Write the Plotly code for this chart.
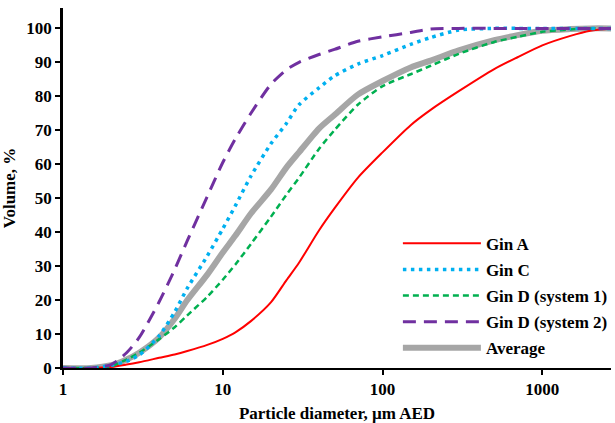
import plotly.graph_objects as go

diameter = [1, 1.5, 2, 2.5, 3, 4, 5, 6, 8, 10, 12, 15, 20, 25, 30, 40, 50, 70,
            100, 150, 200, 300, 500, 700, 1000, 1500, 2000, 2700]

gin_a = [0, 0, 0.3, 1.0, 1.7, 3.0, 4.0, 5.0, 6.8, 8.6, 10.5, 13.8, 19.3, 25.8, 31, 40.5, 47, 56,
         63.5, 71.5, 76, 81.5, 88, 91.5, 95, 97.8, 99.3, 100]
gin_c = [0, 0, 0.8, 2, 3.8, 9.5, 16.5, 23.5, 33, 41, 47.8, 56.5, 66, 72, 77.5, 82.5, 86, 89.5,
         92, 95.3, 97.3, 99.5, 100, 100, 100, 100, 100, 100]
gin_d1 = [0, 0, 0.5, 2.5, 4.5, 8.5, 12, 15.5, 21, 26, 30.5, 36.5, 44.5, 51, 56, 64.5, 70, 77.5,
          83, 86.5, 89, 92.5, 96, 97.5, 99, 99.7, 100, 100]
gin_d2 = [0, 0, 1, 4.5, 9, 19.5, 29, 37.5, 50.5, 60.5, 67.5, 75, 83.5, 87.8, 90, 92.3, 93.8, 96.2,
          97.5, 98.8, 99.8, 100, 100, 100, 100, 100, 100, 100]
average = [0, 0, 0.8, 2.5, 4.5, 9, 14.5, 20, 27.5, 34, 39, 45.5, 52.5, 59, 63.5, 70.5, 74.5, 80.5,
           84.5, 88.5, 90.5, 93.5, 96.5, 98, 99.3, 99.8, 100, 100]

x_ticks = [1, 10, 100, 1000]
x_tick_labels = ["<b>1</b>", "<b>10</b>", "<b>100</b>", "<b>1000</b>"]
y_ticks = [0, 10, 20, 30, 40, 50, 60, 70, 80, 90, 100]
y_tick_labels = ["<b>%d</b>" % v for v in y_ticks]

FONT = "Liberation Serif, Times New Roman, serif"
SIZE = 17

fig = go.Figure()
fig.add_trace(go.Scatter(x=diameter, y=average, mode="lines", name="<b>Average</b>",
                         legendgroup="e",
                         line=dict(color="#A6A6A6", width=6, shape="spline", smoothing=0.7),
                         legendrank=5))
fig.add_trace(go.Scatter(x=diameter, y=gin_a, mode="lines", name="<b>Gin A</b>",
                         legendgroup="a",
                         line=dict(color="#FF0000", width=2, shape="spline", smoothing=0.7),
                         legendrank=1))
fig.add_trace(go.Scatter(x=diameter, y=gin_d1, mode="lines", name="<b>Gin D (system 1)</b>",
                         legendgroup="c",
                         line=dict(color="#00B050", width=2.5, dash="6px,4px", shape="spline",
                                   smoothing=0.7), legendrank=3))
fig.add_trace(go.Scatter(x=diameter, y=gin_c, mode="lines", name="<b>Gin C</b>",
                         legendgroup="b",
                         line=dict(color="#00B0F0", width=3.5, dash="3.5px,4.5px", shape="spline",
                                   smoothing=0.7), legendrank=2))
fig.add_trace(go.Scatter(x=diameter, y=gin_d2, mode="lines", name="<b>Gin D (system 2)</b>",
                         legendgroup="d",
                         line=dict(color="#7030A0", width=3, dash="13px,8px", shape="spline",
                                   smoothing=0.7), legendrank=4))

fig.update_layout(
    width=615, height=423,
    margin=dict(l=63, r=3, t=8, b=55),
    paper_bgcolor="white", plot_bgcolor="white",
    font=dict(family=FONT, size=SIZE, color="black"),
    legend=dict(x=0.61, y=0.395, xanchor="left", yanchor="top",
                bgcolor="rgba(0,0,0,0)", itemwidth=78, tracegroupgap=1,
                font=dict(family=FONT, size=SIZE, color="black")),
    xaxis=dict(type="log", range=[0, 3.43], tickvals=x_ticks, ticktext=x_tick_labels,
               showgrid=False, zeroline=False, showline=True, linecolor="black",
               linewidth=2, ticks="outside", ticklen=5, tickwidth=1.5, tickcolor="black",
               automargin=False,
               title=dict(text="<b>Particle diameter, µm AED</b>", standoff=10,
                          font=dict(family=FONT, size=SIZE))),
    yaxis=dict(range=[0, 106], tickvals=y_ticks, ticktext=y_tick_labels, showgrid=False,
               zeroline=False, showline=True, linecolor="black", linewidth=2.5,
               ticks="outside", ticklen=5, tickwidth=1.5, tickcolor="black",
               automargin=False,
               title=dict(text="<b>Volume, %</b>", standoff=8,
                          font=dict(family=FONT, size=SIZE))),
)

fig.write_html("out.html", config={"displayModeBar": False},
               post_script="document.body.style.margin='0';")
